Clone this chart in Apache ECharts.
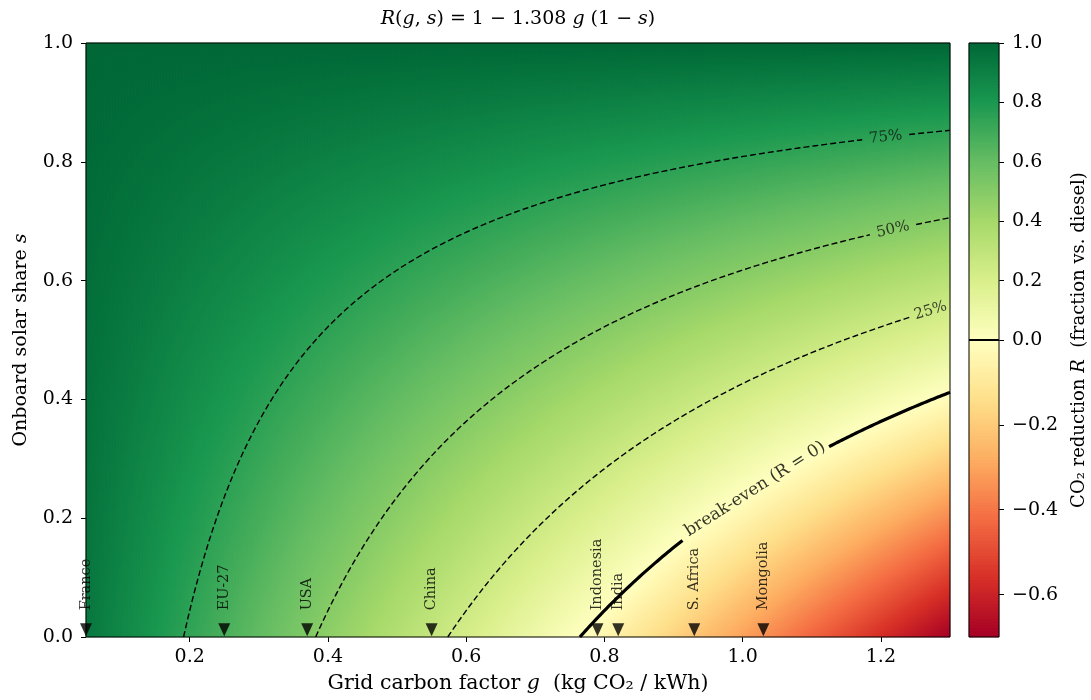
<!DOCTYPE html>
<html><head><meta charset="utf-8">
<script src="https://cdn.jsdelivr.net/npm/echarts@6/dist/echarts.min.js"></script>
<style>html,body{margin:0;padding:0;background:#fff}#c{width:1091px;height:700px}</style>
</head><body><div id="c"></div>
<script>
// ---------------- data ----------------
const COEF = 1.308;                 // R(g,s) = 1 - 1.308 g (1 - s)  (from the title)
const G_RANGE = [0.05, 1.30];       // grid carbon factor g
const S_RANGE = [0.0, 1.0];         // onboard solar share s
const R_RANGE = [-0.70, 1.00];      // colour scale (two-slope, centre 0)
const X_TICKS = [0.2, 0.4, 0.6, 0.8, 1.0, 1.2];
const Y_TICKS = [0.0, 0.2, 0.4, 0.6, 0.8, 1.0];
const CB_POS_TICKS = [0.0, 0.2, 0.4, 0.6, 0.8, 1.0];
const CB_NEG_TICKS = [-0.6, -0.4, -0.2];
const CONTOUR_LEVELS = [0.75, 0.50, 0.25];
const CONTOUR_TEXT = ['75%', '50%', '25%'];
const BREAK_EVEN_LEVEL = 0.0;
const BREAK_EVEN_TEXT = 'break-even (R = 0)';
const COUNTRIES = ['France', 'EU-27', 'USA', 'China', 'Indonesia', 'India', 'S. Africa', 'Mongolia'];
const COUNTRY_G = [0.05, 0.25, 0.37, 0.55, 0.79, 0.82, 0.93, 1.03];
const RDYLGN = ['#a50026','#d73027','#f46d43','#fdae61','#fee08b','#ffffbf','#d9ef8b','#a6d96a','#66bd63','#1a9850','#006837'];

// ---------------- layout / style ----------------
const FONT = 'DejaVu Serif';
const NX = 288, NY = 297, NCB = 99;
const CONTOUR_LABEL_G = [1.207, 1.2175, 1.272];
const CONTOUR_GAP = [[1.173, 1.241], [1.184, 1.251], [1.243, 1.30]];
const CONTOUR_ANGLE = [6.4, 12.5, 16.9];
const BE_LABEL_G = 1.018, BE_GAP = [0.913, 1.125], BE_ANGLE = 32.4;
const MARKER_S = 0.012;

function R(g, s) { return 1 - COEF * g * (1 - s); }
function norm(r) { return r < 0 ? 0.5 * (r - R_RANGE[0]) / (0 - R_RANGE[0]) : 0.5 + 0.5 * r / R_RANGE[1]; }
function contourS(level, g) { return 1 - (1 - level) / (COEF * g); }
function segment(level, a, b) {
  const pts = [], n = 160;
  if (b <= a) return pts;
  for (let k = 0; k <= n; k++) { const g = a + (b - a) * k / n; pts.push([g, contourS(level, g)]); }
  return pts;
}
const fmt = v => (v < 0 ? '\u2212' + Math.abs(v).toFixed(1) : v.toFixed(1));

// heatmap cells
const heatMain = [];
for (let i = 0; i < NX; i++) {
  const g = G_RANGE[0] + (i + 0.5) * (G_RANGE[1] - G_RANGE[0]) / NX;
  for (let j = 0; j < NY; j++) {
    const s = S_RANGE[0] + (j + 0.5) * (S_RANGE[1] - S_RANGE[0]) / NY;
    const r = R(g, s);
    heatMain.push([i, j, norm(r), r]);
  }
}
const cbUp = [], cbLo = [];
for (let j = 0; j < NCB; j++) {
  const ru = R_RANGE[1] * (j + 0.5) / NCB;
  cbUp.push([0, j, norm(ru), ru]);
  const rl = R_RANGE[0] * (1 - (j + 0.5) / NCB);
  cbLo.push([0, j, norm(rl), rl]);
}
const idx = n => Array.from({length: n}, (_, i) => i);

const tickTxt = {fontFamily: FONT, fontSize: 19, color: '#000'};
const hiddenCat = (gi, n) => ({type: 'category', gridIndex: gi, data: idx(n), show: false});

const series = [
  {type: 'heatmap', xAxisIndex: 0, yAxisIndex: 0, data: heatMain, progressive: 0, silent: true},
  {type: 'heatmap', xAxisIndex: 2, yAxisIndex: 2, data: cbUp, progressive: 0, silent: true},
  {type: 'heatmap', xAxisIndex: 3, yAxisIndex: 4, data: cbLo, progressive: 0, silent: true},
  {type: 'line', xAxisIndex: 4, yAxisIndex: 5, data: [[0, BREAK_EVEN_LEVEL], [1, BREAK_EVEN_LEVEL]],
   symbol: 'none', clip: false, silent: true, z: 20, lineStyle: {color: '#000', width: 2}}
];
// dashed contours
CONTOUR_LEVELS.forEach((lv, k) => {
  const g0 = Math.max(G_RANGE[0], (1 - lv) / COEF);
  [segment(lv, g0, CONTOUR_GAP[k][0]), segment(lv, CONTOUR_GAP[k][1], G_RANGE[1])].forEach(d => {
    if (d.length) series.push({type: 'line', xAxisIndex: 1, yAxisIndex: 1, data: d, symbol: 'none', silent: true,
      lineStyle: {color: '#000', width: 1.4, type: [6, 3]}});
  });
  series.push({type: 'scatter', xAxisIndex: 1, yAxisIndex: 1, silent: true, symbolSize: 1,
    itemStyle: {color: 'rgba(0,0,0,0)'},
    data: [[CONTOUR_LABEL_G[k], contourS(lv, CONTOUR_LABEL_G[k])]],
    label: {show: true, position: 'inside', rotate: CONTOUR_ANGLE[k], formatter: CONTOUR_TEXT[k],
      fontFamily: FONT, fontSize: 15, color: '#111'}});
});
// break-even contour
{
  const g0 = (1 - BREAK_EVEN_LEVEL) / COEF;
  [segment(BREAK_EVEN_LEVEL, g0, BE_GAP[0]), segment(BREAK_EVEN_LEVEL, BE_GAP[1], G_RANGE[1])].forEach(d => {
    series.push({type: 'line', xAxisIndex: 1, yAxisIndex: 1, data: d, symbol: 'none', silent: true,
      lineStyle: {color: '#000', width: 3.2}});
  });
  series.push({type: 'scatter', xAxisIndex: 1, yAxisIndex: 1, silent: true, symbolSize: 1,
    itemStyle: {color: 'rgba(0,0,0,0)'},
    data: [[BE_LABEL_G, contourS(BREAK_EVEN_LEVEL, BE_LABEL_G)]],
    label: {show: true, position: 'inside', rotate: BE_ANGLE, formatter: BREAK_EVEN_TEXT,
      fontFamily: FONT, fontSize: 17, color: '#000'}});
}
// country markers
series.push({type: 'scatter', xAxisIndex: 1, yAxisIndex: 1, silent: true, z: 5,
  symbol: 'triangle', symbolRotate: 180, symbolSize: [12, 13], itemStyle: {color: '#000'},
  data: COUNTRIES.map((n, k) => ({name: n, value: [COUNTRY_G[k], MARKER_S]})),
  label: {show: true, position: 'top', distance: 13, rotate: 90, align: 'left', verticalAlign: 'middle',
    formatter: '{b}', fontFamily: FONT, fontSize: 14.5, color: '#000'}});

const option = {
  animation: false,
  backgroundColor: '#fff',
  title: {
    text: '{i|R}({i|g}, {i|s}) = 1 \u2212 1.308 {i|g} (1 \u2212 {i|s})',
    left: 513, top: 5, textAlign: 'center',
    textStyle: {fontFamily: FONT, fontSize: 19, fontWeight: 'normal', color: '#000',
      rich: {i: {fontFamily: FONT, fontSize: 19, fontStyle: 'italic', color: '#000'}}}
  },
  visualMap: {type: 'continuous', show: false, dimension: 2, min: 0, max: 1, seriesIndex: [0, 1, 2],
    inRange: {color: RDYLGN}},
  grid: [
    {left: 86, top: 43, width: 864, height: 594},
    {left: 86, top: 43, width: 864, height: 594, show: true, z: 10, backgroundColor: 'rgba(0,0,0,0)', borderColor: '#000', borderWidth: 1},
    {left: 969, top: 43, width: 30, height: 297, show: true, z: 10, backgroundColor: 'rgba(0,0,0,0)', borderColor: '#000', borderWidth: 1},
    {left: 969, top: 340, width: 30, height: 297, show: true, z: 10, backgroundColor: 'rgba(0,0,0,0)', borderColor: '#000', borderWidth: 1},
    {left: 969, top: 43, width: 30, height: 594}
  ],
  xAxis: [
    hiddenCat(0, NX),
    {type: 'value', gridIndex: 1, min: G_RANGE[0], max: G_RANGE[1], position: 'bottom',
      axisLine: {show: false}, splitLine: {show: false},
      axisTick: {show: true, length: 5, customValues: X_TICKS, lineStyle: {color: '#000'}},
      axisLabel: {customValues: X_TICKS, formatter: fmt, margin: 11, ...tickTxt},
      name: 'Grid carbon factor {i|g}  (kg CO\u2082 / kWh)', nameLocation: 'middle', nameGap: 36,
      nameTextStyle: {fontFamily: FONT, fontSize: 20.5, color: '#000',
        rich: {i: {fontFamily: FONT, fontSize: 20.5, fontStyle: 'italic', color: '#000'}}}},
    hiddenCat(2, 1),
    hiddenCat(3, 1),
    {type: 'value', gridIndex: 3, min: 0, max: 1, show: false},
    {type: 'value', gridIndex: 4, min: 0, max: 1, show: false}
  ],
  yAxis: [
    hiddenCat(0, NY),
    {type: 'value', gridIndex: 1, min: S_RANGE[0], max: S_RANGE[1], interval: 0.2, position: 'left',
      axisLine: {show: false}, splitLine: {show: false},
      axisTick: {show: true, length: 5, lineStyle: {color: '#000'}},
      axisLabel: {formatter: fmt, margin: 13, ...tickTxt},
      name: 'Onboard solar share {i|s}', nameLocation: 'middle', nameGap: 55, nameRotate: 90,
      nameTextStyle: {fontFamily: FONT, fontSize: 19, color: '#000',
        rich: {i: {fontFamily: FONT, fontSize: 19, fontStyle: 'italic', color: '#000'}}}},
    hiddenCat(2, NCB),
    {type: 'value', gridIndex: 2, min: 0, max: R_RANGE[1], interval: 0.2, position: 'right',
      axisLine: {show: false}, splitLine: {show: false},
      axisTick: {show: true, length: 5, lineStyle: {color: '#000'}},
      axisLabel: {formatter: fmt, margin: 13, ...tickTxt}},
    hiddenCat(3, NCB),
    {type: 'value', gridIndex: 3, min: R_RANGE[0], max: 0, position: 'right',
      axisLine: {show: false}, splitLine: {show: false},
      axisTick: {show: true, length: 5, customValues: CB_NEG_TICKS, lineStyle: {color: '#000'}},
      axisLabel: {customValues: CB_NEG_TICKS, formatter: fmt, margin: 13, ...tickTxt}},
    {type: 'value', gridIndex: 4, min: 0, max: 1, position: 'right',
      axisLine: {show: false}, axisTick: {show: false}, axisLabel: {show: false}, splitLine: {show: false},
      name: 'CO\u2082 reduction {i|R}  (fraction vs. diesel)', nameLocation: 'middle', nameGap: 71, nameRotate: 90,
      nameTextStyle: {fontFamily: FONT, fontSize: 18, color: '#000',
        rich: {i: {fontFamily: FONT, fontSize: 18, fontStyle: 'italic', color: '#000'}}}}
  ],
  series
};
const chart = echarts.init(document.getElementById('c'), null, {renderer: 'canvas', width: 1091, height: 700});
chart.setOption(option);
</script>
</body></html>
